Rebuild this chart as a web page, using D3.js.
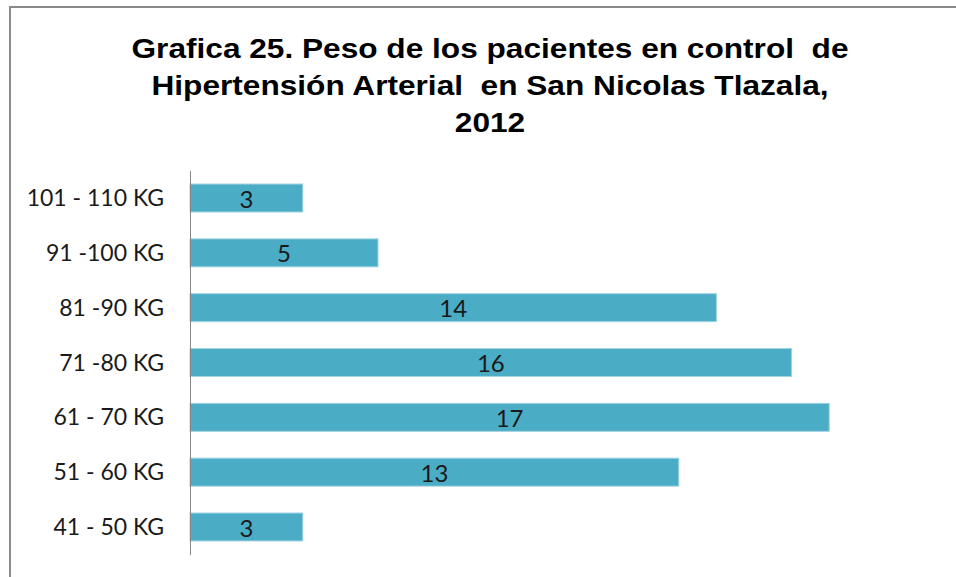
<!DOCTYPE html>
<html>
<head>
<meta charset="utf-8">
<script src="https://cdn.jsdelivr.net/npm/d3@7"></script>
<style>
  body { margin: 0; background: #fff; }
</style>
</head>
<body>
<script>
const categories = ["101 - 110 KG", "91 -100 KG", "81 -90 KG", "71 -80 KG", "61 - 70 KG", "51 - 60 KG", "41 - 50 KG"]
const values = [3, 5, 14, 16, 17, 13, 3]
const titleLines = ["Grafica 25. Peso de los pacientes en control  de", "Hipertensión Arterial  en San Nicolas Tlazala,", "2012"]

const w = 956
const h = 577
const cx = 490 // title center

const svg = d3.select("body")
              .append("svg")
              .attr("width", w)
              .attr("height", h)

// chart area border (only top and left edges fall inside the picture)
svg.append("rect")
   .attr("x", 10)
   .attr("y", 7)
   .attr("width", w + 20)
   .attr("height", h + 20)
   .attr("fill", "none")
   .attr("stroke", "#8a8a8a")
   .attr("stroke-width", 2)

// title, a bit wider than the plain font
svg.append("text")
   .attr("text-anchor", "middle")
   .attr("transform", `translate(${cx},0) scale(1.11,1)`)
   .style("white-space", "pre")
   .attr("font-family", "Liberation Sans, Arial, sans-serif")
   .attr("font-weight", "bold")
   .attr("font-size", 28.5)
   .attr("fill", "#000")
   .selectAll("tspan")
   .data(titleLines)
   .enter()
   .append("tspan")
   .attr("x", 0)
   .attr("y", (d, i) => 58.5 + i * 37)
   .text(d => d)

const x = d3.scaleLinear().domain([0, 20]).range([190, 942])
const y = d3.scaleBand().domain(categories).range([170.6, 554.4]).paddingInner(0.49).paddingOuter(0.245)

// bars
svg.selectAll("rect.bar")
   .data(values)
   .enter()
   .append("rect")
   .attr("class", "bar")
   .attr("x", x(0))
   .attr("y", (d, i) => y(categories[i]))
   .attr("width", d => x(d) - x(0))
   .attr("height", y.bandwidth())
   .attr("fill", "#4bacc6")
   .attr("stroke", "#9fd3e0")
   .attr("stroke-width", 1)

// value labels
svg.selectAll("text.val")
   .data(values)
   .enter()
   .append("text")
   .attr("class", "val")
   .attr("x", d => (x(0) + x(d)) / 2)
   .attr("y", (d, i) => y(categories[i]) + y.bandwidth() / 2)
   .attr("dy", "0.4em")
   .attr("text-anchor", "middle")
   .attr("font-family", "Lato, Open Sans, sans-serif")
   .attr("font-size", 24)
   .attr("fill", "#1a1a1a")
   .text(d => d)

// category axis
const axis = d3.axisLeft(y).tickSize(0).tickPadding(26)
const g = svg.append("g")
             .attr("transform", `translate(${x(0)},0)`)
             .call(axis)
g.select(".domain").attr("stroke", "#868686").attr("stroke-width", 1)
g.selectAll(".tick text")
 .attr("dy", "0.35em")
 .attr("font-family", "Lato, Open Sans, sans-serif")
 .attr("font-size", 23)
 .attr("fill", "#1a1a1a")
</script>
</body>
</html>
